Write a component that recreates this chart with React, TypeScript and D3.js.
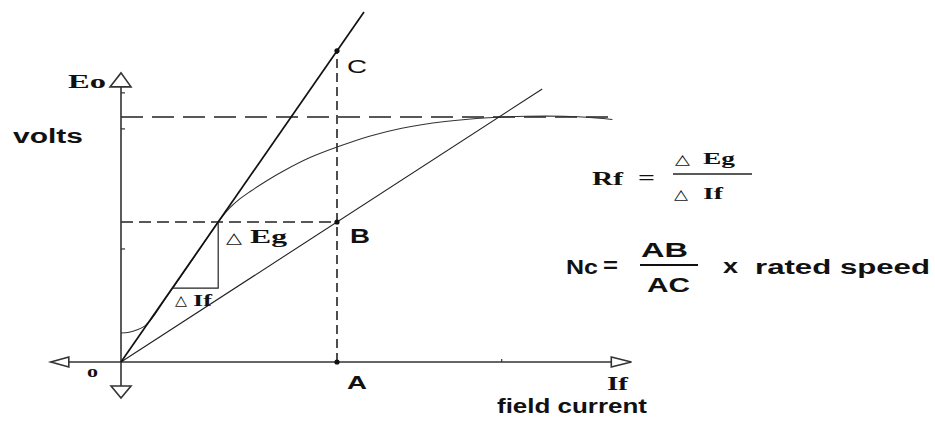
import React from "react";
import * as d3 from "d3";

// Open-circuit characteristic of a shunt generator (field current If vs. generated Eo)
const occIf = [0, 0.15, 0.3, 0.45, 0.6, 0.8, 1.0, 1.4, 1.8, 2.0, 2.2, 2.4, 2.7, 3.0, 3.5, 4.0, 4.6, 5.2, 6.0, 6.8, 7.5, 8.2, 8.8, 9.1];
const occEo = [0.83, 0.85, 0.92, 1.04, 1.3, 1.76, 2.2, 3.1, 4.0, 4.38, 4.66, 4.88, 5.18, 5.45, 5.84, 6.14, 6.45, 6.68, 6.87, 6.98, 7.02, 7.02, 6.97, 6.93];

// Critical-resistance line (tangent to the linear part) and field-resistance line
const criticalLineIf = [0, 4.5];
const criticalLineEo = [0, 10];
const fieldLineIf = [0, 7.8];
const fieldLineEo = [0, 7.8];

// Saturation level and the construction points A, B, C at If = 4
const saturationEo = 7;
const saturationEndIf = 9.1;
const pointNames = ["A", "B", "C"];
const pointIf = [4, 4, 4];
const pointEo = [0, 4, 8.89];

// ΔIf / ΔEg triangle on the tangent
const triIf = [0.95, 1.8, 1.8];
const triEo = [2.11, 2.11, 4.0];

// Small tick marks on the axes
const yTickValues = [7.69, 6.66, 3.23];
const xTickValues = [7.05];

const W = 935;
const H = 423;

const x = d3.scaleLinear().domain([0, 10]).range([121, 661]);
const y = d3.scaleLinear().domain([0, 10]).range([362, 12]);

const INK = "#111";
const SANS = "'Liberation Sans', Arial, sans-serif";
const SERIF = "'Liberation Serif', 'Times New Roman', serif";
const SYMBOL = "'DejaVu Sans', sans-serif";

type TProps = {
  x: number;
  y: number;
  w: number;
  size: number;
  family: string;
  weight?: string;
  children: React.ReactNode;
};

function T({ x: tx, y: ty, w, size, family, weight = "bold", children }: TProps) {
  return (
    <text
      x={tx}
      y={ty}
      fontSize={size}
      fontFamily={family}
      fontWeight={weight}
      textLength={w}
      lengthAdjust="spacingAndGlyphs"
      fill={INK}
    >
      {children}
    </text>
  );
}

export default function App() {
  const lineGen = d3
    .line<[number, number]>()
    .x((d) => x(d[0]))
    .y((d) => y(d[1]));

  const occPath = d3
    .line<[number, number]>()
    .x((d) => x(d[0]))
    .y((d) => y(d[1]))
    .curve(d3.curveCatmullRom.alpha(0.5))(occIf.map((v, i) => [v, occEo[i]] as [number, number]));

  const critical = lineGen(criticalLineIf.map((v, i) => [v, criticalLineEo[i]] as [number, number]));
  const field = lineGen(fieldLineIf.map((v, i) => [v, fieldLineEo[i]] as [number, number]));
  const tri = lineGen(triIf.map((v, i) => [v, triEo[i]] as [number, number]));

  const x0 = x(0);
  const y0 = y(0);
  const xLeft = x(-1.3);
  const xRight = x(9.45);
  const yTop = y(8.26);
  const yBottom = y(-1.03);

  const pA = { x: x(pointIf[0]), y: y(pointEo[0]) };
  const pB = { x: x(pointIf[1]), y: y(pointEo[1]) };
  const pC = { x: x(pointIf[2]), y: y(pointEo[2]) };

  return (
    <svg
      width={W}
      height={H}
      viewBox={`0 0 ${W} ${H}`}
      style={{ position: "absolute", left: 0, top: 0, background: "#fff" }}
    >
      <rect width={W} height={H} fill="#fff" />

      {/* dashed construction lines */}
      <line
        x1={x0}
        x2={x(saturationEndIf)}
        y1={y(saturationEo)}
        y2={y(saturationEo)}
        stroke="#222"
        strokeWidth={1.4}
        strokeDasharray="22 9"
      />
      <line x1={x0} x2={pB.x} y1={pB.y} y2={pB.y} stroke="#222" strokeWidth={1.4} strokeDasharray="12 6" />
      <line x1={pA.x} x2={pC.x} y1={pA.y} y2={pC.y} stroke="#222" strokeWidth={1.6} strokeDasharray="9 5" />

      {/* axes */}
      <g stroke="#333" strokeWidth={1.6} fill="none">
        <line x1={xLeft} x2={xRight} y1={y0} y2={y0} />
        <line x1={x0} x2={x0} y1={yTop} y2={yBottom} />
        <path d={`M${x0 - 11},${yTop + 14} L${x0},${yTop} L${x0 + 10},${yTop + 14} Z`} fill="#fff" />
        <path d={`M${x0 - 10},${yBottom - 12} L${x0},${yBottom} L${x0 + 10},${yBottom - 12} Z`} fill="#fff" />
        <path d={`M${xLeft + 18},${y0 - 5} L${xLeft},${y0} L${xLeft + 18},${y0 + 5} Z`} fill="#fff" />
        <path d={`M${xRight - 20},${y0 - 5} L${xRight},${y0} L${xRight - 20},${y0 + 5} Z`} fill="#fff" />
      </g>
      <g stroke="#333" strokeWidth={1.2}>
        {yTickValues.map((v) => (
          <line key={v} x1={x0} x2={x0 + 4} y1={y(v)} y2={y(v)} />
        ))}
        {xTickValues.map((v) => (
          <line key={v} x1={x(v)} x2={x(v)} y1={y0} y2={y0 - 3} />
        ))}
      </g>

      {/* characteristic curve and resistance lines */}
      <path d={occPath ?? ""} fill="none" stroke="#333" strokeWidth={1.1} />
      <path d={field ?? ""} fill="none" stroke="#222" strokeWidth={1.1} />
      <path d={critical ?? ""} fill="none" stroke="#111" strokeWidth={1.7} />
      <path d={tri ?? ""} fill="none" stroke="#222" strokeWidth={1.2} />

      {/* construction points */}
      {pointNames.map((n, i) => (
        <circle key={n} cx={x(pointIf[i])} cy={y(pointEo[i])} r={2.6} fill={INK} />
      ))}

      {/* axis labels */}
      <T x={68} y={88} w={38} size={18} family={SERIF}>Eo</T>
      <T x={13} y={143} w={70} size={20} family={SANS}>volts</T>
      <T x={87} y={377} w={11} size={16} family={SERIF}>o</T>
      <T x={607} y={390} w={21} size={18} family={SERIF}>If</T>
      <T x={497} y={413} w={150} size={20} family={SANS}>field current</T>

      {/* point labels */}
      <T x={347} y={73} w={20} size={19} family={SANS} weight="normal">C</T>
      <T x={350} y={243} w={20} size={20} family={SANS}>B</T>
      <T x={347} y={389} w={20} size={19} family={SANS}>A</T>

      {/* triangle labels */}
      <T x={226} y={243} w={16} size={15} family={SYMBOL} weight="normal">△</T>
      <T x={250} y={243} w={37} size={19} family={SERIF}>Eg</T>
      <T x={175} y={305} w={12} size={14} family={SYMBOL} weight="normal">△</T>
      <T x={193} y={306} w={19} size={17} family={SERIF}>If</T>

      {/* Rf = ΔEg / ΔIf */}
      <T x={592} y={185} w={31} size={18} family={SERIF}>Rf</T>
      <T x={638} y={184} w={17} size={18} family={SERIF}>=</T>
      <line x1={673} x2={752} y1={174} y2={174} stroke="#222" strokeWidth={1.4} />
      <T x={675} y={164} w={15} size={14} family={SYMBOL} weight="normal">△</T>
      <T x={703} y={164} w={32} size={17} family={SERIF}>Eg</T>
      <T x={674} y={199} w={14} size={14} family={SYMBOL} weight="normal">△</T>
      <T x={703} y={199} w={20} size={17} family={SERIF}>If</T>

      {/* Nc = AB / AC x rated speed */}
      <T x={566} y={274} w={32} size={20} family={SANS}>Nc</T>
      <T x={603} y={272} w={15} size={20} family={SANS}>=</T>
      <line x1={640} x2={698} y1={265} y2={265} stroke="#111" strokeWidth={2} />
      <T x={641} y={257} w={47} size={20} family={SANS}>AB</T>
      <T x={647} y={292} w={43} size={20} family={SANS}>AC</T>
      <T x={723} y={273} w={15} size={20} family={SANS}>x</T>
      <T x={755} y={274} w={175} size={20} family={SANS}>rated speed</T>
    </svg>
  );
}
